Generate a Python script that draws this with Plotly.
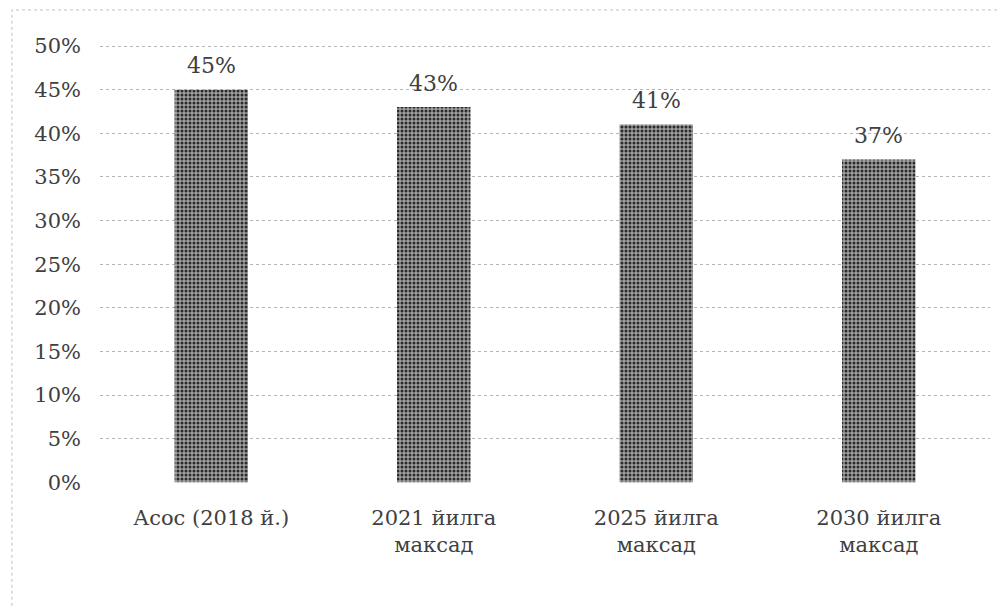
import plotly.graph_objects as go

categories = ["Асос (2018 й.)", "2021 йилга<br>максад", "2025 йилга<br>максад", "2030 йилга<br>максад"]
values = [0.45, 0.43, 0.41, 0.37]
value_labels = ["45%", "43%", "41%", "37%"]
tick_vals = [0, 0.05, 0.10, 0.15, 0.20, 0.25, 0.30, 0.35, 0.40, 0.45, 0.50]
tick_text = ["0%", "5%", "10%", "15%", "20%", "25%", "30%", "35%", "40%", "45%", "50%"]

font_family = "DejaVu Serif, Liberation Serif, serif"
text_color = "#404040"

fig = go.Figure()
fig.add_trace(go.Bar(
    x=categories,
    y=values,
    cliponaxis=False,
    marker=dict(
        color="#6e6e6e",
        line=dict(width=0),
        pattern=dict(shape=".", fgcolor="#2a2a2a", bgcolor="#a0a0a0", size=4, solidity=0.45, fillmode="replace"),
    ),
    width=0.33,
))

annotations = [
    dict(x=c, y=v, text=t, xref="x", yref="y", showarrow=False,
         yanchor="middle", yshift=24,
         font=dict(family=font_family, size=22, color=text_color))
    for c, v, t in zip(categories, values, value_labels)
]

fig.update_layout(
    width=1008,
    height=606,
    margin=dict(l=92, r=26, t=37, b=131),
    paper_bgcolor="white",
    plot_bgcolor="white",
    showlegend=False,
    font=dict(family=font_family, size=21, color=text_color),
    annotations=annotations,
    xaxis=dict(
        showgrid=False,
        showline=False,
        zeroline=False,
        ticks="",
        ticklabelstandoff=20,
        tickfont=dict(family=font_family, size=21, color=text_color),
    ),
    yaxis=dict(
        range=[-0.0008, 0.5012],
        tickvals=tick_vals,
        ticktext=tick_text,
        showgrid=True,
        gridcolor="#b5b5b5",
        griddash="dot",
        gridwidth=1,
        zeroline=False,
        showline=False,
        ticks="",
        ticklabelstandoff=18,
        tickfont=dict(family=font_family, size=21, color=text_color),
    ),
    shapes=[
        dict(type="rect", xref="paper", yref="paper",
             x0=-0.099, x1=1.025, y0=-0.3, y1=1.08,
             line=dict(color="#c0c0c0", width=1, dash="dot"), layer="below"),
    ],
)

fig.write_html("out.html")
